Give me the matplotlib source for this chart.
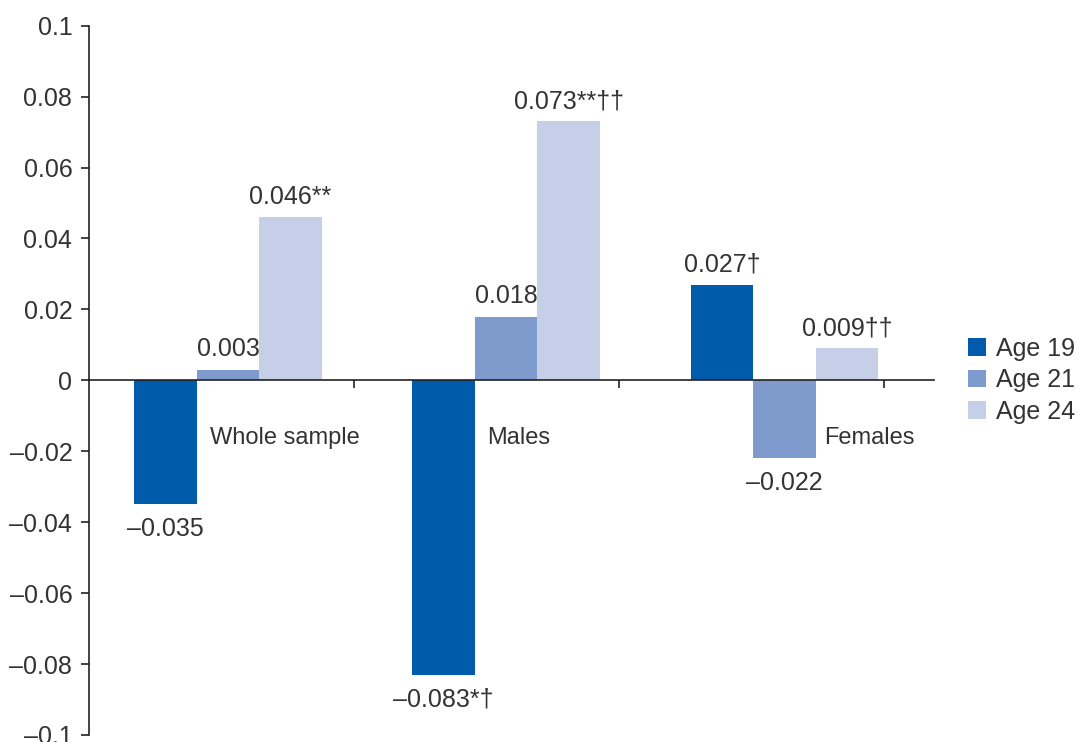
import numpy as np
import matplotlib
matplotlib.use('Agg')
import matplotlib.pyplot as plt
from matplotlib.patches import Patch
from matplotlib.ticker import FuncFormatter

plt.rcParams['font.family'] = ['Liberation Sans', 'DejaVu Sans']

groups = ['Whole sample', 'Males', 'Females']
series = ['Age 19', 'Age 21', 'Age 24']
values = [[-0.035, 0.003, 0.046],
          [-0.083, 0.018, 0.073],
          [0.027, -0.022, 0.009]]
labels = [['\u20130.035', '0.003', '0.046**'],
          ['\u20130.083*\u2020', '0.018', '0.073**\u2020\u2020'],
          ['0.027\u2020', '\u20130.022', '0.009\u2020\u2020']]
colors = ['#005bab', '#7f9bcd', '#c5cfe8']
txt = '#333333'

fig = plt.figure(figsize=(10.78, 7.42), dpi=100)
ax = fig.add_axes([89/1078, 1-735/742, (934-89)/1078, (735-25.7)/742])

centers = np.arange(3)*1.05 + 0.525
w = 0.236
for gi, g in enumerate(groups):
    for si in range(3):
        x = centers[gi] + (si-1)*w
        v = values[gi][si]
        ax.bar(x, v, w, color=colors[si], linewidth=0)
        if v >= 0:
            ax.annotate(labels[gi][si], (x, v), xytext=(0, 6), textcoords='offset points',
                        ha='center', va='bottom', fontsize=18, color=txt)
        else:
            ax.annotate(labels[gi][si], (x, v), xytext=(0, -9), textcoords='offset points',
                        ha='center', va='top', fontsize=18, color=txt)

# category names placed beside the bars
name_x = [0.457, 1.502, 2.774]
for gx, g in zip(name_x, groups):
    ax.text(gx, -0.0162, g, ha='left', va='center', fontsize=17, color=txt)

ax.set_xlim(0, 3.19)
ax.set_ylim(-0.1, 0.1)
ax.set_yticks(np.arange(-0.1, 0.1001, 0.02))
ax.yaxis.set_major_formatter(FuncFormatter(
    lambda v, p: ('%.2f' % v).rstrip('0').rstrip('.').replace('-', '\u2013') if abs(v) > 1e-9 else '0'))
ax.set_xticks([1, 2, 3])
ax.set_xticklabels([])
ax.tick_params(axis='y', direction='out', length=6, width=1.2, pad=6, labelsize=18, labelcolor=txt, color='#222222')
ax.tick_params(axis='x', direction='out', length=6, width=1.2, color='#222222')
for s in ['top', 'right']:
    ax.spines[s].set_visible(False)
ax.spines['bottom'].set_position(('data', 0))
ax.spines['bottom'].set_color('#222222')
ax.spines['bottom'].set_linewidth(1.2)
ax.spines['left'].set_color('#222222')
ax.spines['left'].set_linewidth(1.2)
ax.spines['left'].set_bounds(-0.1, 0.1)
ax.set_clip_on(False)

handles = [Patch(facecolor=c, edgecolor='none', label=s) for c, s in zip(colors, series)]
leg = fig.legend(handles=handles, loc='center left', bbox_to_anchor=(968/1078, 1-380/742),
                 frameon=False, fontsize=18, handlelength=0.7, handleheight=0.7,
                 handletextpad=0.4, labelspacing=0.3, borderpad=0, borderaxespad=0)
for t in leg.get_texts():
    t.set_color(txt)

plt.savefig('out.png', dpi=100)
